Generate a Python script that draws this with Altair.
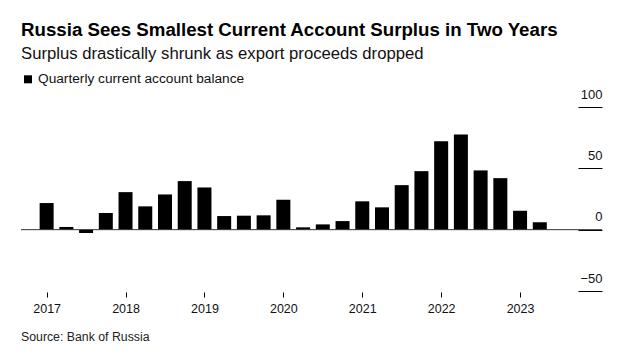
import altair as alt
import pandas as pd

# Quarterly current account balance (bn USD), 2017 Q1 .. 2023 Q2
quarters = ["2017Q1", "2017Q2", "2017Q3", "2017Q4",
            "2018Q1", "2018Q2", "2018Q3", "2018Q4",
            "2019Q1", "2019Q2", "2019Q3", "2019Q4",
            "2020Q1", "2020Q2", "2020Q3", "2020Q4",
            "2021Q1", "2021Q2", "2021Q3", "2021Q4",
            "2022Q1", "2022Q2", "2022Q3", "2022Q4",
            "2023Q1", "2023Q2"]
balance = [21.7, 2.2, -2.7, 13.6,
           30.6, 19.0, 28.7, 39.6,
           34.4, 11.1, 11.4, 11.7,
           24.4, 1.9, 4.3, 7.0,
           23.1, 18.2, 36.3, 47.7,
           72.1, 77.5, 48.3, 42.0,
           15.4, 6.0]
years = [2017, 2018, 2019, 2020, 2021, 2022, 2023]
y_ticks = [-50, 0, 50, 100]

title = "Russia Sees Smallest Current Account Surplus in Two Years"
subtitle = "Surplus drastically shrunk as export proceeds dropped"
legend_label = "Quarterly current account balance"
source = "Source: Bank of Russia"

df = pd.DataFrame({"quarter": quarters, "idx": list(range(len(quarters))), "value": balance})
year_idx = [4 * i for i in range(len(years))]
label_expr = "[" + ",".join(f"'{y}'" for y in years) + "][datum.value / 4]"

FONT = "Liberation Sans"
W, H = 581, 184

x_enc = alt.X("idx:Q",
              scale=alt.Scale(domain=[-1.046, 27.9], nice=False, zero=False),
              axis=alt.Axis(values=year_idx, labelExpr=label_expr, title=None,
                            domain=False, grid=False, ticks=True, tickSize=5,
                            tickColor="#000", tickWidth=1, offset=1,
                            labelFont=FONT, labelFontSize=12.5, labelColor="#111",
                            labelPadding=5))
y_enc = alt.Y("value:Q",
              scale=alt.Scale(domain=[-50, 100], nice=False),
              axis=alt.Axis(values=y_ticks, orient="right", title=None, offset=-24,
                            domain=False, grid=False, ticks=True, tickSize=24,
                            tickColor="#000", tickWidth=1,
                            labelAlign="right", labelBaseline="bottom", labelPadding=0,
                            labelOffset=-6, labelFont=FONT, labelFontSize=13,
                            labelColor="#111"))

bars = alt.Chart(df).mark_bar(color="#000", size=14).encode(x=x_enc, y=y_enc)

zero = alt.Chart(alt.Data(values=[{"z": 0}])).mark_rule(color="#333", strokeWidth=1).encode(
    y=alt.Y("z:Q", scale=alt.Scale(domain=[-50, 100], nice=False)))


def txt(text, x, y, size, weight="normal", color="#000"):
    return alt.Chart(alt.Data(values=[{"t": text}])).mark_text(
        align="left", baseline="alphabetic", font=FONT, fontSize=size,
        fontWeight=weight, color=color).encode(
        x=alt.value(x), y=alt.value(y), text="t:N")


t_title = txt(title, 0, -71, 18.7, "bold", "#000")
t_sub = txt(subtitle, 0, -48, 16.7, "normal", "#111")
t_leg = txt(legend_label, 17, -23.7, 13.7, "normal", "#111")
t_src = txt(source, 0, 234.3, 12.3, "normal", "#222")
sq = alt.Chart(alt.Data(values=[{"s": 1}])).mark_square(
    size=64, color="#000", opacity=1, filled=True).encode(
    x=alt.value(7), y=alt.value(-27.7))

chart = alt.layer(bars, zero, t_title, t_sub, t_leg, sq, t_src).properties(
    width=W, height=H,
    autosize=alt.AutoSizeParams(type="none"),
    padding={"left": 13, "top": 99, "right": 10, "bottom": 54},
).configure(background="#ffffff").configure_view(stroke=None, strokeWidth=0)

chart.save("out.html", embed_options={"renderer": "svg", "actions": False})
